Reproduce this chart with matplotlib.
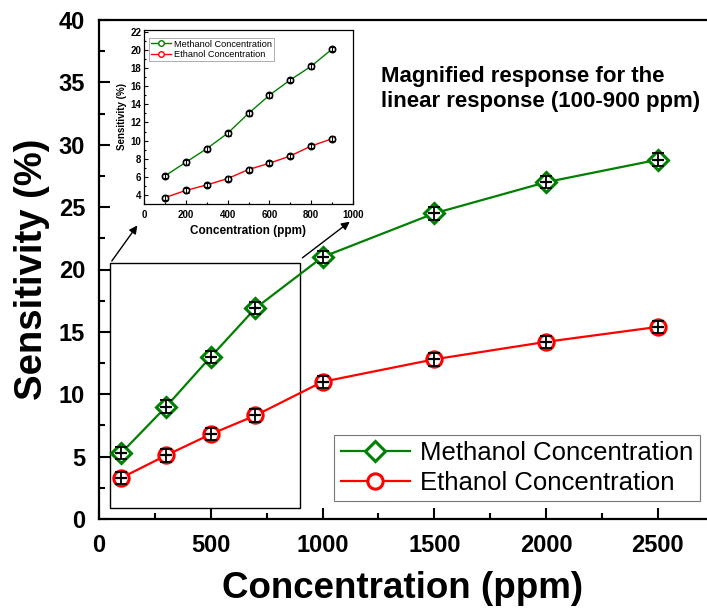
import matplotlib
matplotlib.use("Agg")
import matplotlib.pyplot as plt
from matplotlib.lines import Line2D
from matplotlib.patches import Rectangle

plt.rcParams['font.family'] = ['Liberation Sans', 'DejaVu Sans']

# main curve data
conc = [100, 300, 500, 700, 1000, 1500, 2000, 2500]
methanol = [5.3, 9.0, 13.0, 16.9, 21.0, 24.5, 27.0, 28.8]
ethanol = [3.3, 5.1, 6.8, 8.3, 11.0, 12.8, 14.2, 15.4]

# inset (linear range) data
conc_in = [100, 200, 300, 400, 500, 600, 700, 800, 900]
methanol_in = [6.1, 7.6, 9.1, 10.8, 13.0, 15.0, 16.7, 18.2, 20.1]
ethanol_in = [3.7, 4.5, 5.1, 5.8, 6.8, 7.5, 8.3, 9.4, 10.2]

GREEN = '#008000'
RED = '#ff0000'

fig = plt.figure(figsize=(7.07, 6.16), dpi=100)
ax = fig.add_axes([99/707, (616-519)/616, 1 - 99/707, (519-20)/616])

ax.plot(conc, methanol, '-D', color=GREEN, lw=1.6, ms=10, mfc='white',
        mec=GREEN, mew=2.2, label='Methanol Concentration', zorder=3)
ax.plot(conc, ethanol, '-o', color=RED, lw=1.6, ms=11, mfc='white',
        mec=RED, mew=2.2, label='Ethanol Concentration', zorder=3)
for ys in (methanol, ethanol):
    ax.errorbar(conc, ys, yerr=0.5, fmt='none', ecolor='k', elinewidth=1.3,
                capsize=4, capthick=1.3, zorder=4)
    ax.plot(conc, ys, '_', color='k', ms=9, mew=1.6, zorder=4)

ax.set_xlim(0, 2720)
ax.set_ylim(0, 40)
ax.set_xticks([0, 500, 1000, 1500, 2000, 2500])
ax.set_xticks(range(250, 2700, 500), minor=True)
ax.set_yticks(range(0, 41, 5))
ax.set_yticks([v + 2.5 for v in range(0, 40, 5)], minor=True)
ax.tick_params(which='both', direction='in', width=1.5, labelsize=17)
ax.tick_params(axis='x', pad=11)
ax.tick_params(axis='y', pad=10)
ax.tick_params(which='major', length=8)
ax.tick_params(which='minor', length=4.5)
for lab in ax.get_xticklabels() + ax.get_yticklabels():
    lab.set_fontweight('bold')
ax.spines['right'].set_visible(False)
for s in ('left', 'bottom', 'top'):
    ax.spines[s].set_linewidth(1.6)
ax.set_xlabel('Concentration (ppm)', fontsize=26.5, fontweight='bold', labelpad=10)
ax.set_ylabel('Sensitivity (%)', fontsize=27.5, fontweight='bold', labelpad=6)

leg = ax.legend(loc='lower right', bbox_to_anchor=(0.9885, 0.036), fontsize=18.5,
                frameon=True, fancybox=False, handlelength=2.7,
                borderpad=0.25, labelspacing=0.22, handletextpad=0.4,
                borderaxespad=0)
leg.get_frame().set_edgecolor('#555555')
leg.get_frame().set_linewidth(0.8)

ax.text(0.464, 0.908, 'Magnified response for the\nlinear response (100-900 ppm)',
        transform=ax.transAxes, fontsize=16, fontweight='bold', va='top',
        ha='left', linespacing=1.25)

# magnified region box
rect_x, rect_y, rect_w, rect_h = 50, 0.9, 850, 19.6
ax.add_patch(Rectangle((rect_x, rect_y), rect_w, rect_h, fill=False,
                       ec='k', lw=1.0, zorder=2))

# inset
ins = fig.add_axes([144/707, (616-204)/616, 209/707, 174/616])
ins.plot(conc_in, methanol_in, '-', color=GREEN, lw=1.0)
ins.plot(conc_in, ethanol_in, '-', color=RED, lw=1.0)
for ys in (methanol_in, ethanol_in):
    ins.plot(conc_in, ys, 'o', ms=4.5, mfc='white', mec='k', mew=1.2)
    ins.errorbar(conc_in, ys, yerr=0.25, fmt='none', ecolor='k',
                 elinewidth=0.8, capsize=1.8, capthick=0.8)
ins.set_xlim(0, 1000)
ins.set_ylim(3, 22.2)
ins.set_xticks(range(0, 1001, 200))
ins.set_xticks(range(100, 1000, 200), minor=True)
ins.set_yticks(range(4, 23, 2))
ins.set_yticks(range(5, 22, 2), minor=True)
ins.tick_params(which='both', direction='in', labelsize=7, width=0.8)
ins.tick_params(axis='x', pad=4)
ins.tick_params(axis='y', pad=2)
ins.tick_params(which='major', length=3)
ins.tick_params(which='minor', length=1.5)
for lab in ins.get_xticklabels() + ins.get_yticklabels():
    lab.set_fontweight('bold')
for s in ins.spines.values():
    s.set_linewidth(0.9)
ins.set_xlabel('Concentration (ppm)', fontsize=8.5, fontweight='bold', labelpad=4)
ins.set_ylabel('Sensitivity (%)', fontsize=7, fontweight='bold', labelpad=2)
handles = [Line2D([], [], color=GREEN, lw=1.0, marker='o', ms=4, mfc='white', mec=GREEN),
           Line2D([], [], color=RED, lw=1.0, marker='o', ms=4, mfc='white', mec=RED)]
il = ins.legend(handles, ['Methanol Concentration', 'Ethanol Concentration'],
                loc='upper left', bbox_to_anchor=(0.025, 0.955), fontsize=6.6,
                frameon=True, fancybox=False, handlelength=2.2,
                borderpad=0.2, labelspacing=0.15, handletextpad=0.3,
                borderaxespad=0)
il.get_frame().set_edgecolor('#888888')
il.get_frame().set_linewidth(0.6)

# arrows from the box corners to the inset
arrow = dict(arrowstyle='-|>', color='k', lw=1.0, mutation_scale=12)
ax.annotate('', xy=(-0.024, -0.11), xycoords=ins.transAxes,
            xytext=(rect_x, rect_y + rect_h), textcoords='data', arrowprops=arrow)
ax.annotate('', xy=(0.995, -0.092), xycoords=ins.transAxes,
            xytext=(rect_x + rect_w, rect_y + rect_h + 0.3), textcoords='data',
            arrowprops=arrow)

fig.savefig('out.png', dpi=100)
